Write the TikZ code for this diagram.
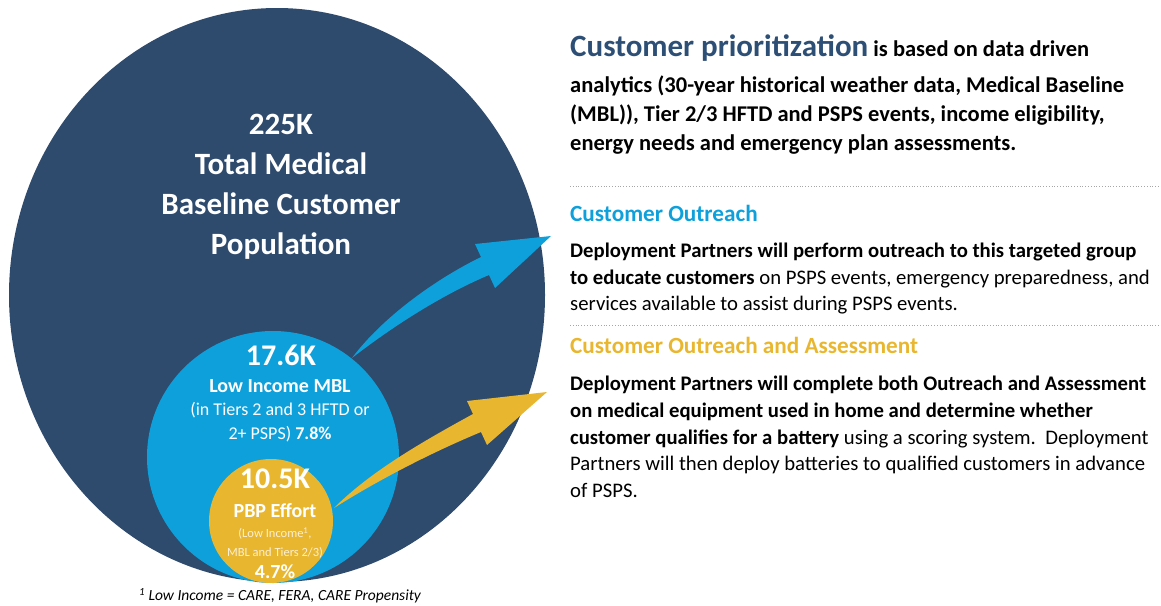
\documentclass[tikz,border=0pt]{standalone}
\usepackage{fontspec}
\setmainfont{Carlito}
\usetikzlibrary{positioning, calc}

\definecolor{mblnavy}{RGB}{46,74,108}
\definecolor{mblcyan}{RGB}{14,160,219}
\definecolor{mblgold}{RGB}{233,182,47}
\definecolor{mbltitle}{RGB}{45,78,117}

\tikzset{
    circtext/.style={text=white, inner sep=0pt},
    prioline/.style={anchor=base west, inner sep=0pt, font=\fontsize{22.5}{26}\selectfont\bfseries},
    bodyline/.style={anchor=base west, inner sep=0pt, font=\fontsize{20.7}{24}\selectfont},
    headline/.style={anchor=base west, inner sep=0pt, font=\fontsize{23.2}{27}\selectfont\bfseries},
    rule/.style={gray!70, dotted, line width=0.8pt}
}

\begin{document}
\begin{tikzpicture}[x=1pt, y=-1pt]

    \useasboundingbox (0,0) rectangle (1161,605);

    % Circles
    \fill[mblnavy] (277,295) ellipse [x radius=268, y radius=287];
    \fill[mblcyan] (273,457) circle [radius=126];
    \fill[mblgold] (271,521) circle [radius=62];

    % Blue arrow
    \fill[mblcyan] (352,358) .. controls (382,318) and (434,280) .. (481,257)
        -- (475,244) -- (551,236) -- (495,288) -- (489,275)
        .. controls (444,294) and (396,324) .. cycle;

    % Gold arrow
    \fill[mblgold] (334,508) .. controls (370,472) and (420,443) .. (473,414)
        -- (467,401) -- (547,392) -- (487,445) -- (481,432)
        .. controls (428,454) and (375,482) .. cycle;

    % Big circle text
    \node[circtext, align=center, font=\fontsize{31}{40}\selectfont\bfseries] (total)
        at (281,187) {225K\\Total Medical\\Baseline Customer\\Population};

    % Blue circle text
    \node[circtext, font=\fontsize{30}{34}\selectfont\bfseries] (lowinc) at (281,355) {17.6K};
    \node[circtext, font=\fontsize{20}{24}\selectfont\bfseries] (lowinclbl) at (280,386) {Low Income MBL};
    \node[circtext, align=center, font=\fontsize{18}{24}\selectfont] (lowincsub) at (280,422)
        {(in Tiers 2 and 3 HFTD or\\2+ PSPS) \textbf{7.8\%}};

    % Gold circle text
    \node[circtext, font=\fontsize{30}{34}\selectfont\bfseries] (pbp) at (275,479) {10.5K};
    \node[circtext, font=\fontsize{20}{24}\selectfont\bfseries] (pbplbl) at (275,511) {PBP Effort};
    \node[circtext, align=center, text=white!80!mblgold, font=\fontsize{12.5}{19}\selectfont] (pbpsub) at (275,543)
        {(Low Income\textsuperscript{1},\\MBL and Tiers 2/3)};
    \node[circtext, font=\fontsize{20}{24}\selectfont\bfseries] (pbppct) at (275,572) {4.7\%};

    % Footnote
    \node[inner sep=0pt, font=\fontsize{15.5}{18}\selectfont\itshape] (foot) at (280,596)
        {\textsuperscript{1} Low Income = CARE, FERA, CARE Propensity};

    % Prioritization block
    \node[prioline] (prio1) at (570,56)
        {\textcolor{mbltitle}{\fontsize{31}{34}\selectfont Customer prioritization} is based on data driven};
    \node[prioline] (prio2) at (570,92)
        {analytics (30-year historical weather data, Medical Baseline};
    \node[prioline] (prio3) at (570,121)
        {(MBL)), Tier 2/3 HFTD and PSPS events, income eligibility,};
    \node[prioline] (prio4) at (570,150)
        {energy needs and emergency plan assessments.};

    \draw[rule] (570,186) -- (1161,186);

    % Outreach block
    \node[headline, text=mblcyan] (outhead) at (570,221) {Customer Outreach};
    \node[bodyline] (out1) at (570,257)
        {\textbf{Deployment Partners will perform outreach to this targeted group}};
    \node[bodyline] (out2) at (570,284)
        {\textbf{to educate customers} on PSPS events, emergency preparedness, and};
    \node[bodyline] (out3) at (570,310)
        {services available to assist during PSPS events.};

    \draw[rule] (570,325) -- (1161,325);

    % Outreach and assessment block
    \node[headline, text=mblgold] (asshead) at (570,353) {Customer Outreach and Assessment};
    \node[bodyline] (ass1) at (570,390)
        {\textbf{Deployment Partners will complete both Outreach and Assessment}};
    \node[bodyline] (ass2) at (570,417)
        {\textbf{on medical equipment used in home and determine whether}};
    \node[bodyline] (ass3) at (570,444)
        {\textbf{customer qualifies for a battery} using a scoring system.\ \ Deployment};
    \node[bodyline] (ass4) at (570,470)
        {Partners will then deploy batteries to qualified customers in advance};
    \node[bodyline] (ass5) at (570,497) {of PSPS.};

\end{tikzpicture}
\end{document}
